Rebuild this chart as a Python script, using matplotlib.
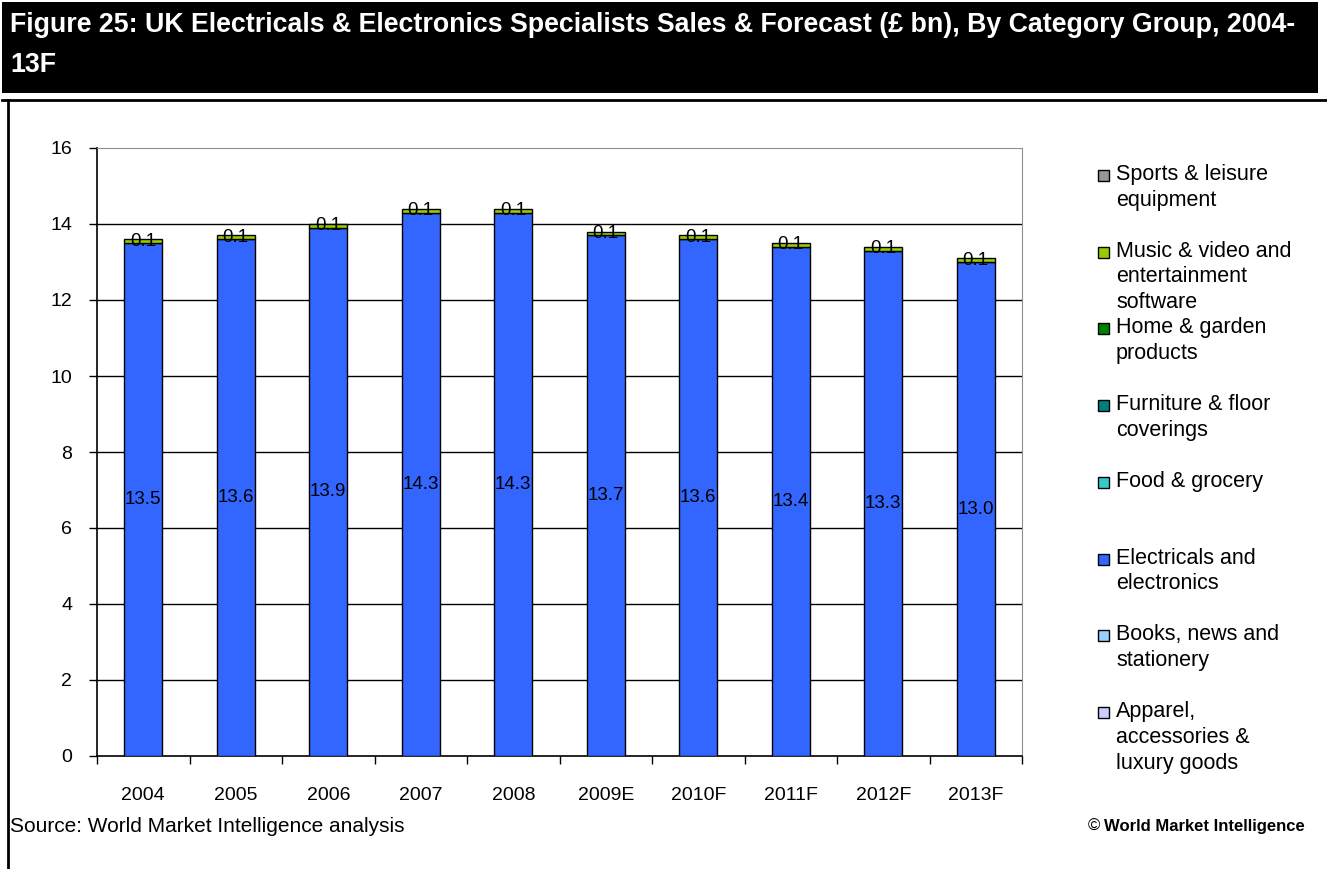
import matplotlib.pyplot as plt
from matplotlib.patches import Rectangle
from matplotlib.lines import Line2D
import numpy as np

plt.rcParams['font.family'] = ['Liberation Sans', 'DejaVu Sans']

years = ['2004', '2005', '2006', '2007', '2008', '2009E', '2010F', '2011F', '2012F', '2013F']
electricals = [13.5, 13.6, 13.9, 14.3, 14.3, 13.7, 13.6, 13.4, 13.3, 13.0]
music_video = [0.1, 0.1, 0.1, 0.1, 0.1, 0.1, 0.1, 0.1, 0.1, 0.1]

legend_labels = ['Sports & leisure\nequipment',
                 'Music & video and\nentertainment\nsoftware',
                 'Home & garden\nproducts',
                 'Furniture & floor\ncoverings',
                 'Food & grocery',
                 'Electricals and\nelectronics',
                 'Books, news and\nstationery',
                 'Apparel,\naccessories &\nluxury goods']
legend_colors = ['#969696', '#99CC00', '#008000', '#008080',
                 '#33CCCC', '#3366FF', '#99CCFF', '#CCCCFF']

W, H = 1327, 869
fig = plt.figure(figsize=(W / 100, H / 100), dpi=100)

def fx(px):
    return px / W

def fy(py):
    return 1 - py / H

# header block and frame
fig.patches.append(Rectangle((fx(2), fy(93)), fx(1316), (93 - 2) / H,
                             transform=fig.transFigure, facecolor='black', edgecolor='none'))
fig.text(fx(10), fy(25), 'Figure 25: UK Electricals & Electronics Specialists Sales & Forecast (£ bn), By Category Group, 2004-',
         color='white', fontsize=19.3, fontweight='bold', va='center', ha='left')
fig.text(fx(10), fy(65), '13F', color='white', fontsize=19.3, fontweight='bold', va='center', ha='left')

for xs, ys in [([8, 8], [100, H]), ([2, W], [100, 100])]:
    fig.lines.append(Line2D([fx(v) for v in xs], [fy(v) for v in ys], transform=fig.transFigure,
                            color='black', lw=2))

ax = fig.add_axes([fx(97), fy(756), fx(1022 - 97), (756 - 148) / H])
x = np.arange(len(years))
bw = 0.41
ax.bar(x, electricals, bw, color='#3366FF', edgecolor='black', lw=1, zorder=3)
ax.bar(x, music_video, bw, bottom=electricals, color='#99CC00', edgecolor='black', lw=1, zorder=3)

for i in range(len(years)):
    ax.text(x[i], electricals[i] / 2, f'{electricals[i]:.1f}', ha='center', va='center', fontsize=13.5, zorder=4)
    ax.text(x[i], electricals[i] + music_video[i] / 2, f'{music_video[i]:.1f}', ha='center', va='center',
            fontsize=13.5, zorder=4)

ax.set_xlim(-0.5, len(years) - 0.5)
ax.set_ylim(0, 16)
ax.set_yticks(range(0, 17, 2))
ax.set_xticks(x)
ax.set_xticklabels(years)
ax.set_xticks(np.arange(-0.5, len(years), 1), minor=True)
ax.tick_params(axis='x', which='major', length=0, pad=22, labelsize=14)
ax.tick_params(axis='x', which='minor', length=6, width=1, direction='out')
ax.tick_params(axis='y', length=6, width=1, direction='out', pad=12, labelsize=14)
for v in range(2, 16, 2):
    ax.axhline(v, color='black', lw=1, zorder=1)
ax.spines['left'].set_color('black')
ax.spines['bottom'].set_color('black')
ax.spines['left'].set_linewidth(1.2)
ax.spines['bottom'].set_linewidth(1.2)
ax.spines['top'].set_color('#909090')
ax.spines['right'].set_color('#909090')

# legend on the right
for i, (lab, col) in enumerate(zip(legend_labels, legend_colors)):
    yc = 176 + 76.7 * i
    fig.patches.append(Rectangle((fx(1098), fy(yc + 5)), fx(11), 11 / H, transform=fig.transFigure,
                                 facecolor=col, edgecolor='black', lw=1))
    fig.text(fx(1116), fy(yc - 12), lab, fontsize=15.5, va='top', ha='left', linespacing=1.3)

fig.text(fx(10), fy(826), 'Source: World Market Intelligence analysis', fontsize=15, va='center', ha='left')
owner = fig.text(fx(1305), fy(826), 'World Market Intelligence', fontsize=12, fontweight='bold',
                 va='center', ha='right')
r = fig.canvas.get_renderer()
left_px = owner.get_window_extent(r).x0
fig.text((left_px - 4) / W, fy(826), '©', fontsize=12, va='center', ha='right')

fig.savefig('out.png', dpi=100)
